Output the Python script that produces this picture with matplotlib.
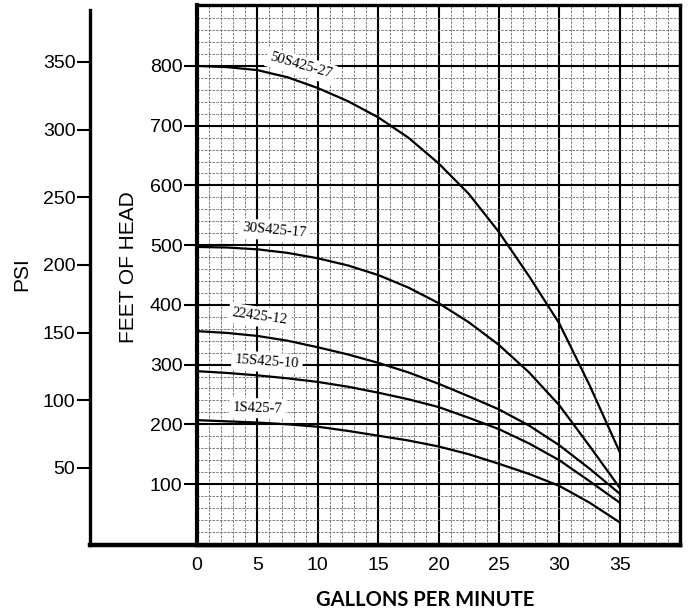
# -*- coding: utf-8 -*-

import numpy as np
import matplotlib.pyplot as plt

# pump curves: flow (gpm) vs head (feet)
gpm = [0, 2.5, 5, 7.5, 10, 12.5, 15, 17.5, 20, 22.5, 25, 27.5, 30, 32.5, 35]

head_50s425_27 = [800, 798, 793, 781, 763, 741, 714, 680, 637, 586, 522, 448, 369, 266, 154]
head_30s425_17 = [497, 496, 493, 487, 478, 466, 450, 429, 403, 371, 333, 287, 232, 164, 94]
head_22425_12 = [356, 353, 348, 340, 329, 317, 303, 287, 268, 247, 225, 198, 165, 126, 84]
head_15s425_10 = [289, 286, 282, 277, 271, 263, 253, 242, 229, 211, 192, 168, 140, 105, 69]
head_1s425_7 = [207, 205, 203, 200, 196, 189, 181, 173, 163, 150, 134, 117, 97, 69, 36]

curve_names = ['50S425-27', '30S425-17', '22425-12', '15S425-10', '1S425-7']

gpm_ticks = [0, 5, 10, 15, 20, 25, 30, 35]
feet_ticks = [100, 200, 300, 400, 500, 600, 700, 800]
psi_ticks = [50, 100, 150, 200, 250, 300, 350]

W, H = 689, 613
SANS = 'Liberation Sans'


def px_box(x0, y0, x1, y1):
    '''
    Axes rectangle from pixel corners (top-left origin).
    '''
    return [x0 / W, 1 - y1 / H, (x1 - x0) / W, (y1 - y0) / H]


def psi_axis(fig):
    '''
    Separate PSI scale on the far left, joined to the bottom frame.
    '''
    ax = fig.add_axes(px_box(90, 10, 680, 545), zorder=1)
    ax.set_ylim(-7, 388.4)
    ax.set_xlim(0, 1)
    for side in ['top', 'right']:
        ax.spines[side].set_visible(False)
    ax.spines['left'].set_linewidth(2.4)
    ax.spines['bottom'].set_linewidth(3.2)
    ax.set_xticks([])
    ax.set_yticks(psi_ticks)
    ax.set_yticklabels([str(v) for v in psi_ticks], fontsize=14, family=SANS)
    ax.tick_params(axis='y', direction='out', length=9.5, width=1.5, pad=1)
    ax.patch.set_alpha(0)
    return ax


def head_axis(fig):
    '''
    Graph paper with the head curves.
    '''
    ax = fig.add_axes(px_box(197, 5, 680, 545), zorder=2)
    ax.set_xlim(0, 40)
    ax.set_ylim(-2, 902)

    ax.set_xticks(gpm_ticks)
    ax.set_xticklabels([str(v) for v in gpm_ticks], fontsize=14, family=SANS)
    ax.set_xticks(np.arange(0, 41, 1), minor=True)
    ax.set_yticks(feet_ticks)
    ax.set_yticklabels([str(v) for v in feet_ticks], fontsize=14, family=SANS)
    ax.set_yticks(np.arange(0, 901, 20), minor=True)

    ax.tick_params(axis='x', which='major', length=0, pad=9)
    ax.tick_params(axis='y', which='major', direction='out', length=9.5, width=1.5, pad=1)
    ax.tick_params(which='minor', length=0)

    ax.grid(which='minor', color='0.4', lw=0.6, linestyle=(0, (3, 1.5)))
    ax.grid(which='major', color='k', lw=1.5)
    ax.axvline(40, color='k', lw=1.5)

    for side in ['top', 'right']:
        ax.spines[side].set_linewidth(2.4)
    ax.spines['left'].set_linewidth(3.0)
    ax.spines['bottom'].set_linewidth(3.2)
    ax.set_axisbelow(True)

    curves = [head_50s425_27, head_30s425_17, head_22425_12, head_15s425_10, head_1s425_7]
    for h in curves:
        ax.plot(gpm, h, color='k', lw=1.6, zorder=3, solid_joinstyle='round')

    # label positions (gpm, feet) and angles along the curves
    spots = [(8.6, 800, -16), (6.4, 524, -5), (5.2, 380, -8), (5.8, 304, -4), (5.0, 227, -2)]
    for name, (x, y, rot) in zip(curve_names, spots):
        ax.text(x, y, name, family='Liberation Serif', fontsize=10.5, rotation=rot,
                ha='center', va='center', zorder=4,
                bbox=dict(facecolor='white', edgecolor='none', pad=2.5))
    return ax


if __name__ == '__main__':

    fig = plt.figure(figsize=(W / 100, H / 100), dpi=100)

    psi_axis(fig)
    head_axis(fig)

    fig.text(22 / W, 1 - 274 / H, 'PSI', rotation=90, fontsize=15, family=SANS,
             ha='center', va='center')
    fig.text(129 / W, 1 - 267 / H, 'FEET OF HEAD', rotation=90, fontsize=15, family=SANS,
             ha='center', va='center')
    fig.text(425 / W, 1 - 600 / H, 'GALLONS PER MINUTE', fontsize=14.5, family='Lato',
             fontweight='bold', ha='center', va='center')

    fig.savefig('out.png', dpi=100)
